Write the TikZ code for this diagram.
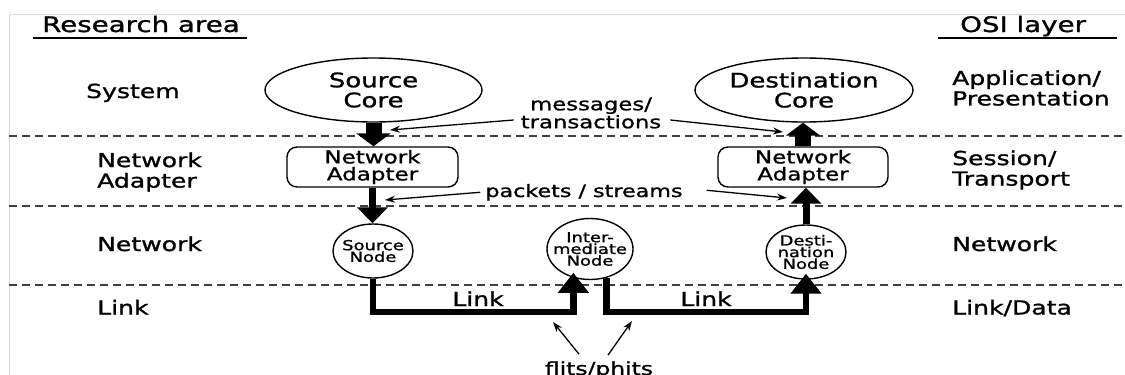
\documentclass[tikz,border=0pt]{standalone}
\usepackage{fontspec}
\setmainfont{DejaVu Sans}[FakeStretch=1.3,FakeBold=1.2]
\usetikzlibrary{shapes.geometric,arrows.meta}
\newcommand{\setfs}[2]{\fontsize{#1}{#2}\selectfont}
\begin{document}
\begin{tikzpicture}[x=1pt,y=-1pt,
  layerlbl/.style={inner sep=0pt, font=\setfs{19.3pt}{20.5pt}, align=left},
  hdr/.style={inner sep=0pt, font=\setfs{21.3pt}{22pt}},
  core/.style={ellipse, draw, line width=1.4pt, fill=white, inner sep=0pt, minimum width=217pt, minimum height=64pt, align=center, font=\setfs{20pt}{20pt}},
  adapter/.style={rectangle, rounded corners=10pt, draw, line width=1.4pt, fill=white, inner sep=0pt, minimum width=171pt, minimum height=40pt, align=center, font=\setfs{17.7pt}{17pt}},
  rnode/.style={ellipse, draw, line width=1.4pt, fill=white, inner sep=-10pt, minimum width=80pt, minimum height=54pt, align=center, font=\setfs{13.8pt}{11.7pt}},
  flowlbl/.style={inner sep=0pt, align=center, font=\setfs{17.5pt}{16pt}},
  linklbl/.style={inner sep=0pt, font=\setfs{19.3pt}{20pt}},
  bigarrow/.style={line width=16pt, -{Triangle[width=34pt,length=13pt]}},
  medarrow/.style={line width=7pt, -{Triangle[width=30pt,length=16pt]}},
  linkarrow/.style={line width=6.5pt, line join=miter, -{Triangle[width=30pt,length=20pt]}},
  thinarrow/.style={line width=1.3pt, -{Stealth[length=10pt,width=7pt]}},
  layersep/.style={dash pattern=on 8pt off 5pt, line width=1.5pt, draw=black!75},
]
\useasboundingbox (0,0) rectangle (1125,375);
\clip (0,0) rectangle (1125,375);
\fill[white] (0,0) rectangle (1125,375);
% faint frame
\draw[black!15, line width=1pt] (9,375) -- (9,14) -- (1125,14);
% layer separators
\draw[layersep] (9,136) -- (1125,136);
\draw[layersep] (9,206) -- (1125,206);
\draw[layersep] (9,285) -- (1125,285);
% headers
\node[hdr, anchor=base west] (ra) at (42,32) {Research area};
\draw[line width=2pt] (33,38) -- (247,38);
\node[hdr, anchor=base west] (osi) at (960,32) {OSI layer};
\draw[line width=2pt] (938,38) -- (1117,38);
% left labels
\node[layerlbl, anchor=base west] (lsys) at (86,98) {System};
\node[layerlbl, anchor=west] (lna) at (97,172) {Network\\Adapter};
\node[layerlbl, anchor=base west] (lnet) at (97,251) {Network};
\node[layerlbl, anchor=base west] (llink) at (97,314.5) {Link};
% right labels
\node[layerlbl, anchor=west] (rapp) at (952,88) {Application/\\Presentation};
\node[layerlbl, anchor=west] (rses) at (952,170) {Session/\\Transport};
\node[layerlbl, anchor=base west] (rnet) at (952,251) {Network};
\node[layerlbl, anchor=base west] (rlink) at (952,314.5) {Link/Data};
% main nodes
\node[core] (score) at (373.5,90) {Source\\Core};
\node[core, minimum width=218pt] (dcore) at (804,90) {Destination\\Core};
\node[adapter] (sadapt) at (372.5,167) {Network\\Adapter};
\node[adapter, minimum width=170pt] (dadapt) at (803,167) {Network\\Adapter};
\node[rnode] (snode) at (373,251) {Source\\Node};
\node[rnode, minimum width=86pt, minimum height=61pt] (inode) at (590,249) {Inter-\\mediate\\Node};
\node[rnode] (dnode) at (806,252) {Desti-\\nation\\Node};
% flow arrows
\draw[bigarrow] (score.south) -- (score.south |- sadapt.north);
\draw[bigarrow] (dadapt.north) -- (dadapt.north |- dcore.south);
\draw[medarrow] (sadapt.south) -- (sadapt.south |- snode.north);
\draw[medarrow] (dnode.north) -- (dnode.north |- dadapt.south);
\draw[linkarrow, shorten >=-5pt] (snode.south) -- (snode.south |- 0,312) -| (inode.240);
\draw[linkarrow, shorten >=-6pt] (inode.300) -- (inode.300 |- 0,312) -| (dnode.south);
% labels
\node[linklbl, anchor=base] (lk1) at (478,306) {Link};
\node[linklbl, anchor=base] (lk2) at (706,306) {Link};
\node[flowlbl] (msg) at (591,113) {messages/\\transactions};
\node[flowlbl, anchor=base, font=\setfs{17.1pt}{17pt}] (pkt) at (584,197) {packets / streams};
\node[anchor=base, inner sep=0pt, font=\setfs{18pt}{18pt}] (flits) at (599,375) {flits/phits};
% label pointers
\coordinate (tmsgL) at (390,130);
\coordinate (tmsgR) at (783,132);
\coordinate (tpktL) at (385,200);
\coordinate (tpktR) at (787,198);
\coordinate (tflL) at (553,322);
\coordinate (tflR) at (632,321);
\draw[thinarrow] ([xshift=-7pt,yshift=-7pt]msg.west) -- (tmsgL);
\draw[thinarrow] ([xshift=9pt,yshift=-7pt]msg.east) -- (tmsgR);
\draw[thinarrow] ([xshift=-5pt]pkt.west) -- (tpktL);
\draw[thinarrow] ([xshift=24pt,yshift=2pt]pkt.east) -- (tpktR);
\draw[thinarrow] ([xshift=-20pt,yshift=7pt]flits.north) -- (tflL);
\draw[thinarrow] ([xshift=9pt,yshift=6pt]flits.north) -- (tflR);
\end{tikzpicture}
\end{document}
